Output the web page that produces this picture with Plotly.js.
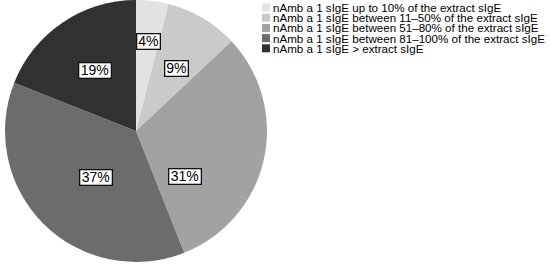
<!DOCTYPE html>
<html>
<head>
<meta charset="utf-8">
<script src="https://cdn.plot.ly/plotly-3.0.1.min.js"></script>
<style>
  html, body { margin: 0; padding: 0; background: #fff; }
  #chart { width: 550px; height: 265px; }
</style>
</head>
<body>
<div id="chart"></div>
<script>
// slice categories and shares (%), clockwise from 12 o'clock
const categories = [
  "nAmb a 1 sIgE up to 10% of the extract sIgE",
  "nAmb a 1 sIgE between 11–50% of the extract sIgE",
  "nAmb a 1 sIgE between 51–80% of the extract sIgE",
  "nAmb a 1 sIgE between 81–100% of the extract sIgE",
  "nAmb a 1 sIgE > extract sIgE"
];
const shares = [4, 9, 31, 37, 19];
const colors = ["#e2e2e2", "#cacaca", "#a2a2a2", "#6c6c6c", "#313131"];

// label box placement: fraction of radius + angle shift (deg) from the slice middle
const labelRadius = [0.69, 0.57, 0.51, 0.47, 0.56];
const labelShift = [1, 2, 30, -4, 0];

const W = 550, H = 265;
const cx = 136, cy = 131, r = 131;

const trace = {
  type: "pie",
  values: shares,
  labels: categories,
  sort: false,
  direction: "clockwise",
  rotation: 0,
  textinfo: "none",
  hoverinfo: "label+percent",
  marker: { colors: colors, line: { width: 0 } },
  domain: {
    x: [(cx - r) / W, (cx + r) / W],
    y: [(H - cy - r) / H, (H - cy + r) / H]
  },
  showlegend: false
};

const total = shares.reduce((a, b) => a + b, 0);
const annotations = [];
const shapes = [];
let cum = 0;
shares.forEach((v, i) => {
  const mid = ((cum + v / 2) / total) * 360 + labelShift[i];
  cum += v;
  const a = mid * Math.PI / 180;
  const px = cx + labelRadius[i] * r * Math.sin(a);
  const py = cy - labelRadius[i] * r * Math.cos(a);
  const txt = Math.round(v / total * 100) + "%";
  annotations.push({
    xref: "paper", yref: "paper",
    x: px / W, y: 1 - py / H,
    xanchor: "center", yanchor: "middle",
    text: txt,
    showarrow: false,
    font: { family: "Liberation Sans, Arial, sans-serif", size: 14, color: "#000" },
    width: txt.length * 9 + 4,
    height: 14,
    bgcolor: "#fff",
    bordercolor: "#111",
    borderwidth: 1.3,
    borderpad: 0
  });
});

// legend drawn by hand so rows sit as tight as in the original
categories.forEach((name, i) => {
  const yc = 7.5 + 10.2 * i;
  shapes.push({
    type: "rect", xref: "paper", yref: "paper",
    x0: 262 / W, x1: 270 / W,
    y0: 1 - (yc - 4) / H, y1: 1 - (yc + 4) / H,
    fillcolor: colors[i], line: { width: 0 }
  });
  annotations.push({
    xref: "paper", yref: "paper",
    x: 272 / W, y: 1 - yc / H,
    xanchor: "left", yanchor: "middle",
    text: name,
    showarrow: false,
    font: { family: "Liberation Sans, Arial, sans-serif", size: 11.6, color: "#000" },
    borderpad: 0
  });
});

const layout = {
  width: W,
  height: H,
  margin: { l: 0, r: 0, t: 0, b: 0 },
  paper_bgcolor: "#fff",
  annotations: annotations,
  shapes: shapes
};

Plotly.newPlot("chart", [trace], layout, { staticPlot: true });
</script>
</body>
</html>
